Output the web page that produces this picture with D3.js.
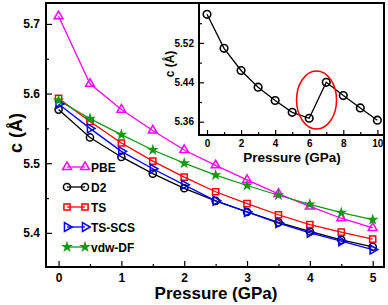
<!DOCTYPE html>
<html>
<head>
<meta charset="utf-8">
<script src="https://cdn.jsdelivr.net/npm/d3@7"></script>
<style>
body { margin: 0; background: #fff; }
text { font-family: "Liberation Sans", Arial, sans-serif; font-weight: bold; }
</style>
</head>
<body>
<div id="chart"></div>
<script>
// data
var pressure = [0, 0.5, 1, 1.5, 2, 2.5, 3, 3.5, 4, 4.5, 5];
var pbe    = [5.711, 5.614, 5.577, 5.547, 5.519, 5.497, 5.476, 5.456, 5.438, 5.421, 5.407];
var d2     = [5.577, 5.537, 5.509, 5.485, 5.464, 5.446, 5.430, 5.415, 5.402, 5.390, 5.380];
var ts     = [5.593, 5.560, 5.529, 5.503, 5.480, 5.459, 5.442, 5.426, 5.412, 5.401, 5.391];
var tsscs  = [5.585, 5.550, 5.517, 5.492, 5.469, 5.446, 5.430, 5.414, 5.400, 5.388, 5.376];
var vdwdf  = [5.590, 5.564, 5.541, 5.519, 5.500, 5.483, 5.468, 5.454, 5.441, 5.429, 5.419];
var seriesNames = ["PBE", "D2", "TS", "TS-SCS", "vdw-DF"];
var insetPressure = [0, 1, 2, 3, 4, 5, 6, 7, 8, 9, 10];
var insetC = [5.578, 5.509, 5.464, 5.430, 5.403, 5.379, 5.367, 5.440, 5.413, 5.388, 5.363];
var xTicks = [0, 1, 2, 3, 4, 5];
var yTicks = [5.4, 5.5, 5.6, 5.7];
var insetXTicks = [0, 2, 4, 6, 8, 10];
var insetYTicks = [5.36, 5.44, 5.52];

var W = 388, H = 305;
var svg = d3.select("#chart").append("svg")
    .attr("width", W).attr("height", H);

var colors = ["#ff00ff", "#000000", "#ff0000", "#0000ff", "#119911"];
var shapes = [d3.symbolTriangle, d3.symbolCircle, d3.symbolSquare, "tri-right", d3.symbolStar];
var sizes = [34, 40, 38, 34, 16];
var allSeries = [pbe, d2, ts, tsscs, vdwdf];

function marker(g, i, x, y) {
    var p;
    if (shapes[i] == "tri-right") {
        p = g.append("path").attr("d", d3.symbol(d3.symbolTriangle, sizes[i])())
            .attr("transform", "translate(" + x + "," + y + ") rotate(90)");
    } else {
        p = g.append("path").attr("d", d3.symbol(shapes[i], sizes[i])())
            .attr("transform", "translate(" + x + "," + y + ")");
    }
    if (i == 4) p.attr("fill", colors[i]).attr("stroke", colors[i]).attr("stroke-width", 1.5);
    else p.attr("fill", "none").attr("stroke", colors[i]).attr("stroke-width", 1.5);
}

// main plot
var mL = 46, mR = 384, mT = 3, mB = 267;
var x = d3.scaleLinear().domain([-0.2, 5.18]).range([mL, mR]);
var y = d3.scaleLinear().domain([5.351, 5.73]).range([mB, mT]);

var line = d3.line().x((d, j) => x(pressure[j])).y(d => y(d));
allSeries.forEach((s, i) => {
    svg.append("path").datum(s)
        .attr("d", line)
        .attr("fill", "none")
        .attr("stroke", colors[i])
        .attr("stroke-width", 1.3);
});
allSeries.forEach((s, i) => {
    s.forEach((v, j) => marker(svg, i, x(pressure[j]), y(v)));
});

// axes (ticks inward)
var xAxis = d3.axisBottom(x).tickValues(xTicks).tickSize(-6).tickPadding(6).tickFormat(d3.format("d"));
var xMinor = d3.axisBottom(x).tickValues([0.5, 1.5, 2.5, 3.5, 4.5]).tickSize(-3).tickFormat("");
var yAxis = d3.axisLeft(y).tickValues(yTicks).tickSize(-6).tickPadding(6).tickFormat(d3.format(".1f"));
var yMinor = d3.axisLeft(y).tickValues([5.45, 5.55, 5.65]).tickSize(-3).tickFormat("");

function styleAxis(g, fs) {
    g.select(".domain").remove();
    g.selectAll("line").attr("stroke", "#000").attr("stroke-width", 1.2);
    g.selectAll("text").attr("font-size", fs).attr("fill", "#000");
}
svg.append("g").attr("transform", "translate(0," + mB + ")").call(xAxis).call(styleAxis, 12);
svg.append("g").attr("transform", "translate(0," + mB + ")").call(xMinor).call(styleAxis, 12);
svg.append("g").attr("transform", "translate(" + mL + ",0)").call(yAxis).call(styleAxis, 12);
svg.append("g").attr("transform", "translate(" + mL + ",0)").call(yMinor).call(styleAxis, 12);

svg.append("rect").attr("x", mL).attr("y", mT).attr("width", mR - mL).attr("height", mB - mT)
    .attr("fill", "none").attr("stroke", "#000").attr("stroke-width", 2);

svg.append("text").attr("x", 216).attr("y", 299).attr("text-anchor", "middle")
    .attr("font-size", 17).text("Pressure (GPa)");
svg.append("text").attr("transform", "translate(22,133) rotate(-90)").attr("text-anchor", "middle")
    .attr("font-size", 18).text("c (Å)");

// legend
var legY = [167, 187, 207, 227, 247];
seriesNames.forEach((n, i) => {
    svg.append("line").attr("x1", 67).attr("x2", 85).attr("y1", legY[i]).attr("y2", legY[i])
        .attr("stroke", colors[i]).attr("stroke-width", 1.3);
    marker(svg, i, 67, legY[i]);
    marker(svg, i, 85, legY[i]);
    svg.append("text").attr("x", 91).attr("y", legY[i] + 4.5)
        .attr("font-size", 12).attr("fill", "#000").text(n);
});

// inset
var iL = 199, iR = 384, iT = 3, iB = 135;
svg.append("rect").attr("x", iL).attr("y", iT).attr("width", iR - iL).attr("height", iB - iT)
    .attr("fill", "#fff");
var ix = d3.scaleLinear().domain([-0.47, 10.39]).range([iL, iR]);
var iy = d3.scaleLinear().domain([5.333, 5.601]).range([iB, iT]);

svg.append("path").datum(insetC)
    .attr("d", d3.line().x((d, j) => ix(insetPressure[j])).y(d => iy(d)))
    .attr("fill", "none").attr("stroke", "#000").attr("stroke-width", 1.3);
insetC.forEach((v, j) => {
    svg.append("circle").attr("cx", ix(insetPressure[j])).attr("cy", iy(v)).attr("r", 3.8)
        .attr("fill", "none").attr("stroke", "#000").attr("stroke-width", 1.6);
});

svg.append("g").attr("transform", "translate(0," + iB + ")")
    .call(d3.axisBottom(ix).tickValues(insetXTicks).tickSize(-5).tickPadding(5))
    .call(styleAxis, 10);
svg.append("g").attr("transform", "translate(0," + iB + ")")
    .call(d3.axisBottom(ix).tickValues([1, 3, 5, 7, 9]).tickSize(-3).tickFormat(""))
    .call(styleAxis, 10);
svg.append("g").attr("transform", "translate(" + iL + ",0)")
    .call(d3.axisLeft(iy).tickValues(insetYTicks).tickSize(-5).tickPadding(5).tickFormat(d3.format(".2f")))
    .call(styleAxis, 10);
svg.append("g").attr("transform", "translate(" + iL + ",0)")
    .call(d3.axisLeft(iy).tickValues([5.40, 5.48, 5.56]).tickSize(-3).tickFormat(""))
    .call(styleAxis, 10);
svg.append("rect").attr("x", iL).attr("y", iT).attr("width", iR - iL).attr("height", iB - iT)
    .attr("fill", "none").attr("stroke", "#000").attr("stroke-width", 2);

svg.append("ellipse").attr("cx", ix(6.43)).attr("cy", iy(5.404)).attr("rx", 20).attr("ry", 29)
    .attr("fill", "none").attr("stroke", "#ff0000").attr("stroke-width", 1.5);

svg.append("text").attr("x", 292).attr("y", 162).attr("text-anchor", "middle")
    .attr("font-size", 13.5).text("Pressure (GPa)");
svg.append("text").attr("transform", "translate(174,64) rotate(-90)").attr("text-anchor", "middle")
    .attr("font-size", 12).text("c (Å)");
</script>
</body>
</html>
